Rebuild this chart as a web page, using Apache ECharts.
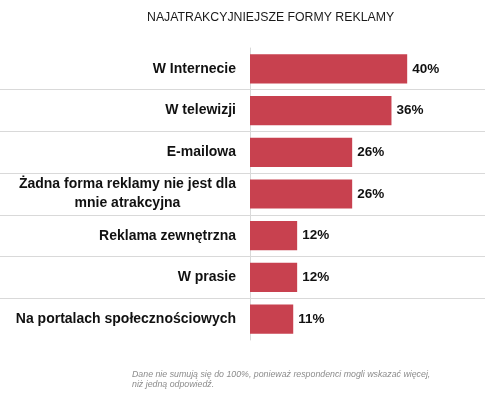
<!DOCTYPE html>
<html>
<head>
<meta charset="utf-8">
<script src="https://cdn.jsdelivr.net/npm/echarts@6/dist/echarts.min.js"></script>
<style>
  html, body { margin: 0; padding: 0; background: #fff; }
  #chart { width: 485px; height: 397px; }
</style>
</head>
<body>
<div id="chart"></div>
<script>
const categories = [
  "W Internecie",
  "W telewizji",
  "E-mailowa",
  "Żadna forma reklamy nie jest dla\nmnie atrakcyjna",
  "Reklama zewnętrzna",
  "W prasie",
  "Na portalach społecznościowych"
];
const values = [40, 36, 26, 26, 12, 12, 11];

const chart = echarts.init(document.getElementById("chart"));

const sepLine = {
  show: true,
  showMinLine: false,
  showMaxLine: false,
  lineStyle: { color: "#d9d9d9", width: 1 },
};

const options = {
  animation: false,
  title: [
    {
      text: "NAJATRAKCYJNIEJSZE FORMY REKLAMY",
      left: 142,
      top: 7,
      textStyle: {
        fontFamily: "Liberation Sans",
        fontSize: 12.3,
        fontWeight: "normal",
        color: "#1a1a1a",
      },
    },
    {
      text: "Dane nie sumują się do 100%, ponieważ respondenci mogli wskazać więcej,\nniż jedną odpowiedź.",
      left: 127,
      top: 365,
      textStyle: {
        fontFamily: "Liberation Sans",
        fontSize: 8.8,
        fontStyle: "italic",
        fontWeight: "normal",
        color: "#8c8c8c",
        lineHeight: 10,
      },
    },
  ],
  // lewa część tylko dla linii oddzielających (etykiety osi rysuje druga siatka)
  grid: [
    { top: 48, bottom: 57, left: 0, width: 250, outerBoundsMode: "none" },
    { top: 48, bottom: 57, left: 250, right: 0, outerBoundsMode: "none" },
  ],
  xAxis: [
    { type: "value", gridIndex: 0, min: 0, max: 1, show: false },
    { type: "value", gridIndex: 1, min: 0, max: 59.8, show: false },
  ],
  yAxis: [
    {
      type: "category",
      gridIndex: 0,
      data: categories,
      inverse: true,
      axisLine: { show: false },
      axisTick: { show: false },
      axisLabel: { show: false },
      splitLine: sepLine,
    },
    {
      type: "category",
      gridIndex: 1,
      data: categories,
      inverse: true,
      axisLine: {
        lineStyle: { color: "#d9d9d9", width: 1 },
      },
      axisTick: { show: false },
      axisLabel: {
        margin: 14,
        fontFamily: "Liberation Sans",
        fontSize: 14,
        fontWeight: "bold",
        color: "#111",
        formatter: (v) => "{c|" + v + "}",
        rich: {
          c: {
            align: "center",
            fontFamily: "Liberation Sans",
            fontSize: 14,
            fontWeight: "bold",
            color: "#111",
            lineHeight: 19,
          },
        },
      },
      splitLine: sepLine,
    },
  ],
  series: [
    {
      type: "bar",
      xAxisIndex: 1,
      yAxisIndex: 1,
      data: values,
      barCategoryGap: "30%",
      itemStyle: { color: "#c8414f" },
      label: {
        show: true,
        position: "right",
        distance: 5,
        formatter: "{c}%",
        fontFamily: "Liberation Sans",
        fontSize: 13.5,
        fontWeight: "bold",
        color: "#111",
      },
    },
  ],
};

chart.setOption(options);

window.addEventListener("resize", () => {
  chart.resize();
});
</script>
</body>
</html>
